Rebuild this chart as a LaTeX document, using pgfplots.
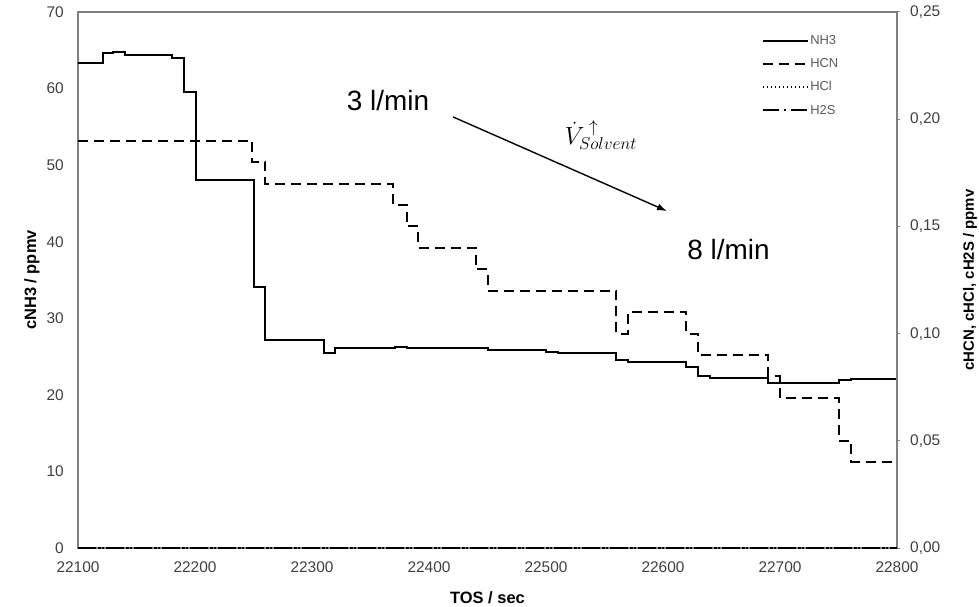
\documentclass[border=0pt]{standalone}
\usepackage{fontspec}
\setmainfont{Liberation Sans}
\usepackage{pgfplots}
\pgfplotsset{compat=1.18}
\usetikzlibrary{arrows.meta}
\definecolor{axgray}{HTML}{808080}
\definecolor{tickgray}{HTML}{404040}
\definecolor{leggray}{HTML}{595959}

\pgfplotsset{
  common/.style={
    scale only axis, width=819bp, height=536bp,
    at={(0,0)}, anchor=south west,
    xmin=22100, xmax=22800,
    axis line style={axgray, line width=1.2bp},
    scaled x ticks=false,
    /pgf/number format/assume math mode=true,
    /pgf/number format/1000 sep={},
    tick label style={font=\fontsize{15.5}{16}\selectfont, text=tickgray},
    label style={font=\bfseries\fontsize{16.5}{18}\selectfont, text=black},
  },
  nh3/.style={black, line width=2bp},
  hcn/.style={black, line width=2bp, dash pattern=on 10bp off 6bp},
  hcl/.style={black, line width=1.4bp, dash pattern=on 1.5bp off 2.5bp},
  h2s/.style={black, line width=2bp, dash pattern=on 16bp off 5bp on 2bp off 5bp},
}

\begin{document}
\begin{tikzpicture}
\useasboundingbox (-78bp,-59bp) rectangle (901bp,548bp);
\begin{axis}[common,
  ymin=0, ymax=70, ytick={0,10,...,70},
  xtick={22100,22200,...,22800},
  xtick pos=bottom, ytick pos=left,
  major tick length=0pt,
  xticklabel style={inner sep=0pt, anchor=north, yshift=-14bp},
  yticklabel style={inner sep=0pt, anchor=east, xshift=-14bp},
  xlabel={TOS / sec},
  ylabel={cNH3 / ppmv},
  xlabel style={at={(axis description cs:0.5,-0.0933)}, anchor=center},
  ylabel style={at={(axis description cs:-0.0562,0.5)}, anchor=center, rotate=0},
]
\addplot[nh3, const plot] coordinates {
(22100,63.3) (22121,64.6) (22130,64.8) (22140,64.4) (22180,64.0)
(22191,59.6) (22201,48.0) (22250,34.1) (22260,27.1) (22310,25.5)
(22320,26.1) (22371,26.3) (22381,26.1) (22450,25.8) (22500,25.65)
(22510,25.5) (22560,24.6) (22570,24.3) (22620,23.7) (22630,22.4)
(22640,22.2) (22690,21.6) (22750,21.9) (22761,22.1) (22800,22.1)
};
\node[font=\fontsize{28}{30}\selectfont, anchor=center] at (axis cs:22365,58.5) {3 l/min};
\node[font=\fontsize{28}{30}\selectfont, anchor=center] at (axis cs:22656,39.0) {8 l/min};
\node[font=\fontsize{23}{25}\selectfont, anchor=center] at (axis cs:22547,53.9) {$\dot{V}^{\;\uparrow}_{Solvent}$};
\draw[-{Latex[length=10bp,width=7bp]}, line width=1.4bp] (axis cs:22420.5,56.3) -- (axis cs:22603.4,44.0);
\end{axis}
\begin{axis}[common,
  clip=false,
  ymin=0, ymax=0.25,
  axis x line=none, axis y line*=right,
  ytick={0,0.05,0.10,0.15,0.20,0.25},
  yticklabels={{0,00},{0,05},{0,10},{0,15},{0,20},{0,25}},
  major tick length=3bp, tick align=outside,
  tick style={axgray, line width=1bp},
  yticklabel style={inner sep=0pt, anchor=west, xshift=10bp},
  ylabel={cHCN, cHCl, cH2S / ppmv},
  ylabel style={at={(axis description cs:1.089,0.5)}, anchor=center, rotate=0, font=\bfseries\fontsize{15}{16}\selectfont},
  legend style={at={(0.831,0.963)}, anchor=north west, draw=none, fill=none,
    font=\fontsize{13}{13}\selectfont, text=leggray, row sep=9.5bp,
    nodes={inner sep=1.5bp}},
  legend cell align=left,
  legend image code/.code={\draw[#1] (0bp,0bp) -- (45bp,0bp);},
]
\addlegendimage{nh3}
\addlegendentry{NH3}
\addplot[hcn, const plot] coordinates {
(22100,0.19) (22249,0.18) (22260,0.17) (22369,0.16) (22381,0.15)
(22391,0.14) (22440,0.13) (22450,0.12) (22560,0.10) (22570,0.11)
(22620,0.10) (22630,0.09) (22690,0.08) (22700,0.07) (22750,0.05)
(22761,0.04) (22800,0.04)
};
\addlegendentry{HCN}
\addplot[hcl] coordinates {(22100,0) (22800,0)};
\addlegendentry{HCl}
\addplot[h2s] coordinates {(22100,0) (22800,0)};
\addlegendentry{H2S}
\end{axis}
\end{tikzpicture}
\end{document}
